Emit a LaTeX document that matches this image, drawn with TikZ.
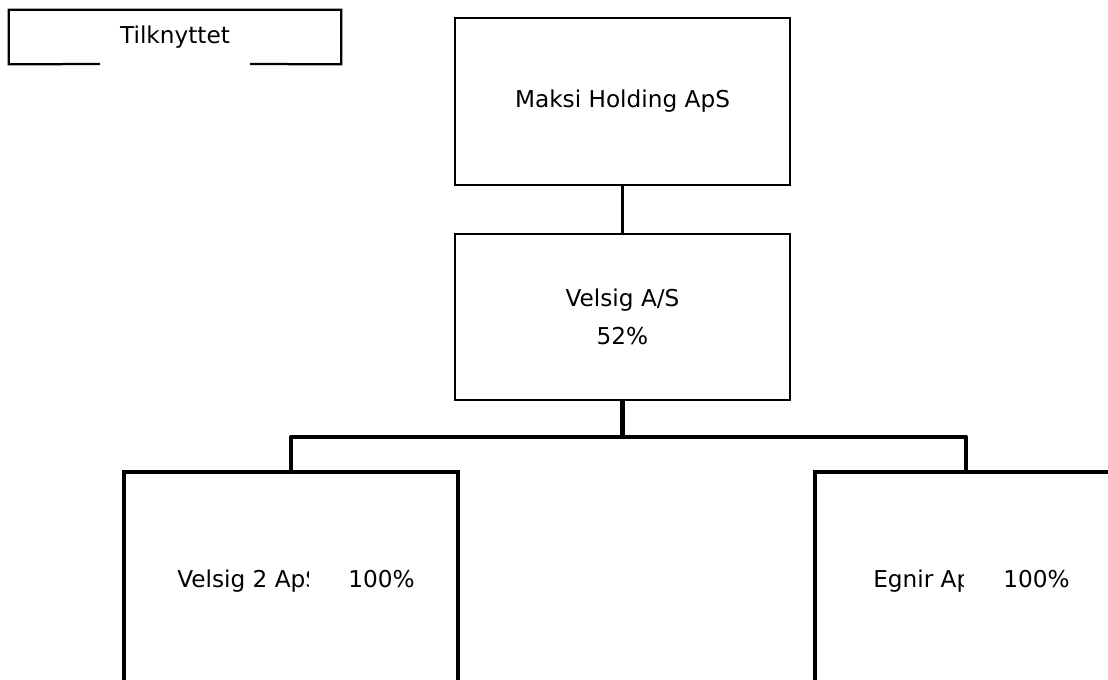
\documentclass[tikz,border=0pt]{standalone}
\usepackage{fontspec}
\setmainfont{DejaVu Sans}
\usepackage{tikz}
\usetikzlibrary{positioning}

\begin{document}
\begin{tikzpicture}[x=0.025cm, y=-0.025cm,
		font=\fontsize{16.5}{27}\selectfont,
		company/.style={draw, line width=1.6pt, minimum width=8.375cm, align=center},
		subsidiary/.style={draw, line width=3pt, minimum width=8.35cm, minimum height=7.5cm},
		ownerline/.style={line width=1.6pt},
		groupline/.style={line width=3pt, line join=round}]
		\useasboundingbox (0,0) rectangle (1108,679) ;
		\clip (0,0) rectangle (1108,679) ;
		% Legend
		\node[minimum width=8.3cm, minimum height=1.35cm] (Legend) at (175,37) {Tilknyttet} ;
		\coordinate (GapL) at (100,64) ;
		\coordinate (GapR) at (250,64) ;
		\draw[ownerline] (GapL) -- (Legend.south west) -- (Legend.north west) -- (Legend.north east) -- (Legend.south east) -- (GapR) ;
		% Center
		\node[company, minimum height=4.175cm] (Maksi) at (622.5,101.5) {Maksi Holding ApS} ;
		\node[company, minimum height=4.15cm, below=1.175cm of Maksi] (Velsig) {Velsig A/S\\52\%} ;
		% Bottom
		\node[subsidiary] (Velsig2) at (291,622) {} ;
		\node[subsidiary, minimum width=7.55cm] (Egnir) at (966,622) {} ;
		\begin{scope}
			\clip (170,540) rectangle (308,610) ;
			\node[anchor=base west, inner sep=0pt] (Velsig2Name) at (177,587) {Velsig 2 ApS} ;
		\end{scope}
		\node[anchor=base west, inner sep=0pt] (Velsig2Share) at (348,587) {100\%} ;
		\begin{scope}
			\clip (860,540) rectangle (963,610) ;
			\node[anchor=base west, inner sep=0pt] (EgnirName) at (873,587) {Egnir ApS} ;
		\end{scope}
		\node[anchor=base west, inner sep=0pt] (EgnirShare) at (1003,587) {100\%} ;
		% Connectors
		\coordinate (Bus) at (622.5,437) ;
		\draw[ownerline] (Maksi) -- (Velsig) ;
		\draw[groupline] (Velsig.south) -- (Bus) -| (Velsig2.north) ;
		\draw[groupline] (Bus) -| (Egnir.north) ;
\end{tikzpicture}
\end{document}
